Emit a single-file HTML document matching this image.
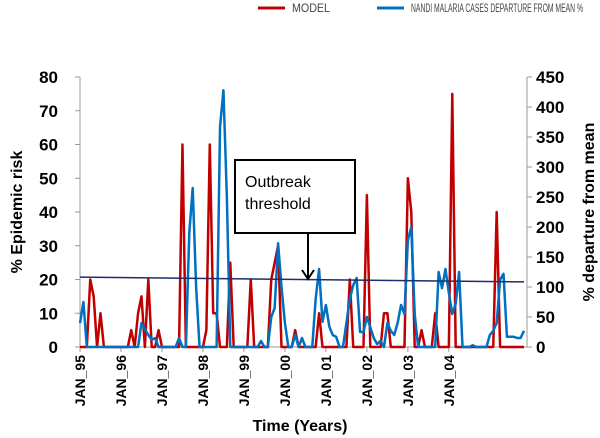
<!DOCTYPE html>
<html><head><meta charset="utf-8"><style>
body{margin:0;background:#fff;}
svg{font-family:"Liberation Sans",sans-serif;display:block}
</style></head><body>
<svg id="chart" width="600" height="438" xmlns="http://www.w3.org/2000/svg"></svg>
<script>
const yearLabels=["JAN_95","JAN_96","JAN_97","JAN_98","JAN_99","JAN_00","JAN_01","JAN_02","JAN_03","JAN_04"];
const leftTicks=[0,10,20,30,40,50,60,70,80];
const rightTicks=[0,50,100,150,200,250,300,350,400,450];
const modelPeaks=[[3,20],[4,15],[6,10],[15,5],[17,10],[18,15],[20,20],[23,5],[30,60],[37,5],[38,60],[39,10],[40,10],[44,25],[50,20],[56,20],[57,25],[58,30],[63,5],[70,10],[79,20],[84,45],[89,10],[90,10],[96,50],[97,40],[100,5],[104,10],[109,75],[122,40]];
const casesPeaks=[[0,40],[1,75],[18,40],[19,30],[20,20],[21,12],[22,15],[29,15],[32,190],[33,265],[34,100],[41,367],[42,428],[43,250],[53,10],[56,50],[57,65],[58,173],[59,100],[60,40],[63,20],[65,15],[69,80],[70,130],[71,42],[72,70],[73,34],[74,20],[75,17],[78,40],[79,80],[80,103],[81,115],[82,25],[83,25],[84,50],[85,33],[86,15],[87,5],[88,10],[90,40],[91,27],[92,20],[93,40],[94,70],[95,55],[96,178],[97,200],[98,55],[105,125],[106,98],[107,130],[108,90],[109,55],[110,72],[111,125],[115,3],[120,20],[121,27],[122,40],[123,112],[124,122],[125,17],[126,17],[127,17],[128,15],[129,15],[130,27]];
const nMonths=131;
const threshold=[20.7,19.3];

const NS="http://www.w3.org/2000/svg";
const svg=document.getElementById('chart');
const X0=80,X1=524,Y0=347,Y1=77;
const xs=i=>X0+i*(X1-X0)/(nMonths-1);
const yl=v=>Y0-v*(Y0-Y1)/80;
const yr=v=>Y0-v*(Y0-Y1)/450;
function el(t,a,txt){const e=document.createElementNS(NS,t);for(const k in a)e.setAttribute(k,a[k]);if(txt!==undefined)e.textContent=txt;svg.appendChild(e);return e;}
function series(p){const a=new Array(nMonths).fill(0);p.forEach(([i,v])=>a[i]=v);return a;}
const model=series(modelPeaks),cases=series(casesPeaks);

let e;
e=el('line',{x1:X0,y1:Y1,x2:X0,y2:Y0,stroke:'#999','stroke-width':1});


e=el('line',{x1:527,y1:Y1,x2:527,y2:Y0,stroke:'#999','stroke-width':1});


e=el('line',{x1:X0,y1:Y0,x2:527,y2:Y0,stroke:'#999','stroke-width':1});


leftTicks.forEach(v=>{
  el('line',{x1:75,y1:yl(v),x2:X0,y2:yl(v),stroke:'#999'});
  e=el('text',{x:58,y:yl(v)+6,'text-anchor':'end','font-size':17,'font-weight':'bold'},v);
  
  
});
rightTicks.forEach(v=>{
  el('line',{x1:527,y1:yr(v),x2:532,y2:yr(v),stroke:'#999'});
  e=el('text',{x:536,y:yr(v)+6,'font-size':17,'font-weight':'bold'},v);
  
  
});
yearLabels.forEach((l,k)=>{
  const x=xs(k*12);
  el('line',{x1:x,y1:Y0,x2:x,y2:Y0+5,stroke:'#999'});
  e=el('text',{x:0,y:0,'text-anchor':'end','font-size':14,'font-weight':'bold',transform:`translate(${x+5},355) rotate(-90)`},l);
  
  
});
e=el('text',{x:0,y:0,'text-anchor':'middle','font-size':16,'font-weight':'bold',transform:'translate(22,212) rotate(-90)'},'% Epidemic risk');


e=el('text',{x:0,y:0,'text-anchor':'middle','font-size':16,'font-weight':'bold',transform:'translate(594,212) rotate(-90)'},'% departure from mean');


e=el('text',{x:300,y:431,'text-anchor':'middle','font-size':16,'font-weight':'bold'},'Time (Years)');



e=el('polyline',{points:model.map((v,i)=>xs(i)+','+yl(v)).join(' '),fill:'none',stroke:'#c00000','stroke-width':2.5,'stroke-linejoin':'round'});


e=el('polyline',{points:cases.map((v,i)=>xs(i)+','+yr(v)).join(' '),fill:'none',stroke:'#0070c0','stroke-width':2.5,'stroke-linejoin':'round'});


e=el('line',{x1:X0,y1:yl(threshold[0]),x2:X1,y2:yl(threshold[1]),stroke:'#1f2d6b','stroke-width':1.5});



e=el('rect',{x:235,y:160,width:120,height:73,fill:'#fff',stroke:'#000','stroke-width':2});


e=el('text',{x:245,y:187,'font-size':16},'Outbreak');


el('text',{x:245,y:209,'font-size':16},'threshold');
e=el('line',{x1:308,y1:233,x2:308,y2:278,stroke:'#000','stroke-width':2});


el('polyline',{points:'302,270 308,279 314,270',fill:'none',stroke:'#000','stroke-width':2});

e=el('line',{x1:258,y1:8,x2:285,y2:8,stroke:'#c00000','stroke-width':3});


e=el('text',{x:292,y:12,'font-size':12,fill:'#444',textLength:38,lengthAdjust:'spacingAndGlyphs'},'MODEL');


e=el('line',{x1:377,y1:8,x2:404,y2:8,stroke:'#0070c0','stroke-width':3});


e=el('text',{x:411,y:12,'font-size':12,fill:'#444',textLength:172,lengthAdjust:'spacingAndGlyphs'},'NANDI MALARIA CASES DEPARTURE FROM MEAN %');


</script>
</body></html>
